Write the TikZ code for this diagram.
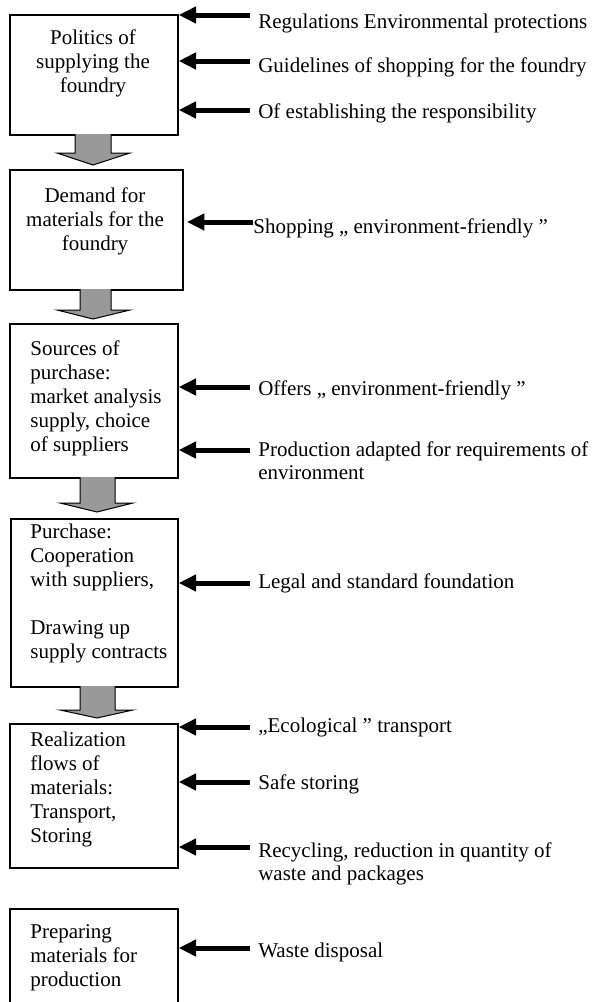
\documentclass[tikz,border=0pt]{standalone}
\usepackage{fontspec}
\setmainfont{Liberation Serif}
\usetikzlibrary{arrows.meta}
\definecolor{arrowgray}{RGB}{153,153,153}
\begin{document}
\begin{tikzpicture}[x=0.6pt,y=-0.6pt,
  box/.style={draw, line width=1pt, inner sep=0pt, anchor=north west},
  boxtext/.style={inner sep=0pt, font=\fontsize{12.6pt}{14.4pt}\selectfont},
  sidetext/.style={inner sep=0pt, anchor=north west, align=left, font=\fontsize{12.6pt}{13.4pt}\selectfont},
  side/.style={line width=3pt, -{Triangle[length=10.4pt,width=9.6pt]}},
  fat/.style={draw=black, line width=0.6pt, fill=arrowgray, line join=miter}]
\clip (0,0) rectangle (598,1002);
% boxes
\node[box, minimum width=168*0.6pt, minimum height=120*0.6pt] (b1) at (9,14) {};
\node[box, minimum width=173*0.6pt, minimum height=120*0.6pt] (b2) at (9,169) {};
\node[box, minimum width=168*0.6pt, minimum height=154*0.6pt] (b3) at (9,323) {};
\node[box, minimum width=167*0.6pt, minimum height=168*0.6pt] (b4) at (10,518) {};
\node[box, minimum width=168*0.6pt, minimum height=144*0.6pt] (b5) at (9,723) {};
\node[box, minimum width=168*0.6pt, minimum height=110*0.6pt] (b6) at (9,908) {};
% box texts
\node[boxtext, anchor=north, align=center] (t1) at (93,27) {\strut Politics of\\supplying the\\foundry};
\node[boxtext, anchor=north, align=center] (t2) at (95,185) {\strut Demand for\\materials for the\\foundry};
\node[boxtext, anchor=north west, align=left] (t3) at (30,338) {\strut Sources of\\purchase:\\market analysis\\supply, choice\\of suppliers};
\node[boxtext, anchor=north west, align=left] (t4) at (30,521) {\strut Purchase:\\Cooperation\\with suppliers,\\[14.4pt]Drawing up\\supply contracts};
\node[boxtext, anchor=north west, align=left] (t5) at (30,729) {\strut Realization\\flows of\\materials:\\Transport,\\Storing};
\node[boxtext, anchor=north west, align=left] (t6) at (30,921) {\strut Preparing\\materials for\\production};
% fat arrows between boxes
\draw[fat] (75,134) -- (75,153) -- (57,153) -- (93,165) -- (130,153) -- (111,153) -- (111,134);
\draw[fat] (80,289) -- (80,310) -- (57,310) -- (93,319) -- (130,310) -- (111,310) -- (111,289);
\draw[fat] (80,477) -- (80,503) -- (60,503) -- (97,512) -- (133,503) -- (115,503) -- (115,477);
\draw[fat] (80,686) -- (80,710) -- (60,710) -- (97,718) -- (133,710) -- (115,710) -- (115,686);
% side labels
\node[sidetext] (l1) at (258,13) {\strut Regulations Environmental protections};
\node[sidetext] (l2) at (258,57) {\strut Guidelines of shopping for the foundry};
\node[sidetext] (l3) at (258,103) {\strut Of establishing the responsibility};
\node[sidetext] (l4) at (253,218) {\strut Shopping „ environment-friendly ”};
\node[sidetext] (l5) at (258,380) {\strut Offers „ environment-friendly ”};
\node[sidetext] (l6) at (258,441) {\strut Production adapted for requirements of\\environment};
\node[sidetext] (l7) at (258,573) {\strut Legal and standard foundation};
\node[sidetext] (l8) at (258,717) {\strut „Ecological ” transport};
\node[sidetext] (l9) at (258,774) {\strut Safe storing};
\node[sidetext] (l10) at (258,842) {\strut Recycling, reduction in quantity of\\waste and packages};
\node[sidetext] (l11) at (258,942) {\strut Waste disposal};
% side arrows
\coordinate (s1) at (250,15);
\coordinate (s2) at (250,61);
\coordinate (s3) at (250,110);
\coordinate (s4) at (253,222);
\coordinate (s5) at (250,387);
\coordinate (s6) at (250,450);
\coordinate (s7) at (250,583);
\coordinate (s8) at (250,727);
\coordinate (s9) at (250,782);
\coordinate (s10) at (250,847);
\coordinate (s11) at (250,948);
\draw[side] (s1) -- (s1 -| b1.east);
\draw[side] (s2) -- (s2 -| b1.east);
\draw[side] (s3) -- (s3 -| b1.east);
\draw[side] (s4) -- ([xshift=2pt]s4 -| b2.east);
\draw[side] (s5) -- (s5 -| b3.east);
\draw[side] (s6) -- (s6 -| b3.east);
\draw[side] (s7) -- (s7 -| b4.east);
\draw[side] (s8) -- (s8 -| b5.east);
\draw[side] (s9) -- (s9 -| b5.east);
\draw[side] (s10) -- (s10 -| b5.east);
\draw[side] (s11) -- (s11 -| b6.east);
\end{tikzpicture}
\end{document}
